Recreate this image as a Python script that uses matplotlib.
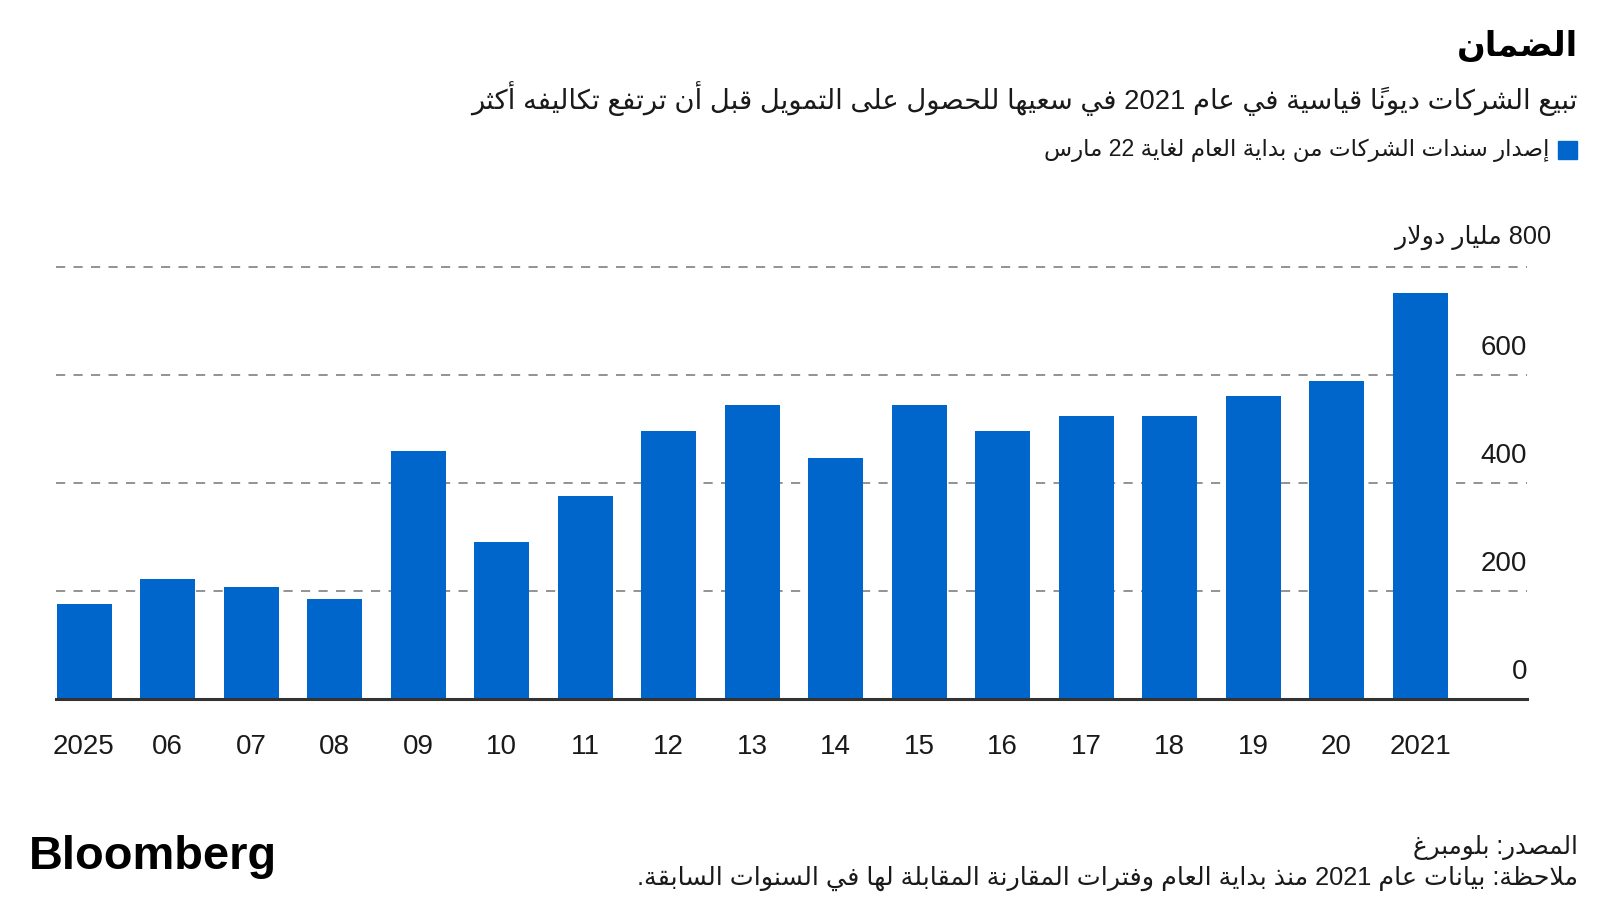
import matplotlib
matplotlib.use("Agg")
import matplotlib.pyplot as plt
import matplotlib.transforms as mtransforms

# ---------------- data ----------------
year_labels = ["2025", "06", "07", "08", "09", "10", "11", "12", "13", "14",
               "15", "16", "17", "18", "19", "20", "2021"]
issuance = [176, 222, 207, 186, 460, 291, 376, 497, 544, 447,
            544, 497, 525, 525, 562, 588, 752]
y_ticks = [0, 200, 400, 600]
y_top = 800

title_txt = "الضمان"
subtitle_txt = "تبيع الشركات ديوناً قياسية في عام 2021 في سعيها للحصول على التمويل قبل أن ترتفع تكاليفه أكثر"
legend_txt = "إصدار سندات الشركات من بداية العام لغاية 22 مارس"
unit_txt = "800 مليار دولار"
source_txt = "المصدر: بلومبرغ"
note_txt = "ملاحظة: بيانات عام 2021 منذ بداية العام وفترات المقارنة المقابلة لها في السنوات السابقة."

BLUE = "#0066CC"

# ---------------- minimal Arabic shaping + visual ordering ----------------
AR_FORMS = {
    '\u0621': (0xFE80, 1), '\u0622': (0xFE81, 2), '\u0623': (0xFE83, 2),
    '\u0624': (0xFE85, 2), '\u0625': (0xFE87, 2), '\u0626': (0xFE89, 4),
    '\u0627': (0xFE8D, 2), '\u0628': (0xFE8F, 4), '\u0629': (0xFE93, 2),
    '\u062A': (0xFE95, 4), '\u062B': (0xFE99, 4), '\u062C': (0xFE9D, 4),
    '\u062D': (0xFEA1, 4), '\u062E': (0xFEA5, 4), '\u062F': (0xFEA9, 2),
    '\u0630': (0xFEAB, 2), '\u0631': (0xFEAD, 2), '\u0632': (0xFEAF, 2),
    '\u0633': (0xFEB1, 4), '\u0634': (0xFEB5, 4), '\u0635': (0xFEB9, 4),
    '\u0636': (0xFEBD, 4), '\u0637': (0xFEC1, 4), '\u0638': (0xFEC5, 4),
    '\u0639': (0xFEC9, 4), '\u063A': (0xFECD, 4), '\u0641': (0xFED1, 4),
    '\u0642': (0xFED5, 4), '\u0643': (0xFED9, 4), '\u0644': (0xFEDD, 4),
    '\u0645': (0xFEE1, 4), '\u0646': (0xFEE5, 4), '\u0647': (0xFEE9, 4),
    '\u0648': (0xFEED, 2), '\u0649': (0xFEEF, 2), '\u064A': (0xFEF1, 4),
}
LAM_ALEF = {'\u0622': 0xFEF5, '\u0623': 0xFEF7, '\u0625': 0xFEF9, '\u0627': 0xFEFB}


def is_mark(c):
    return '\u064B' <= c <= '\u0652'


def ar(s):
    chars = list(s)
    n = len(chars)

    def prev_joins(idx):
        j = idx - 1
        while j >= 0 and is_mark(chars[j]):
            j -= 1
        return j >= 0 and chars[j] in AR_FORMS and AR_FORMS[chars[j]][1] == 4

    def next_letter(idx):
        j = idx + 1
        while j < n and is_mark(chars[j]):
            j += 1
        return j

    def collect_marks(k):
        m = ''
        while k < n and is_mark(chars[k]):
            m += chars[k]
            k += 1
        return m, k

    out = []
    i = 0
    while i < n:
        c = chars[i]
        if c in AR_FORMS:
            pj = prev_joins(i)
            j = next_letter(i)
            if c == '\u0644' and j < n and chars[j] in LAM_ALEF:
                g = chr(LAM_ALEF[chars[j]] + (1 if pj else 0))
                m1 = ''.join(chars[i + 1:j])
                m2, k = collect_marks(j + 1)
                out.append((g + m1 + m2, 'R'))
                i = k
                continue
            base, nf = AR_FORMS[c]
            nj = nf == 4 and j < n and chars[j] in AR_FORMS
            if nf == 1:
                form = 0
            elif nf == 2:
                form = 1 if pj else 0
            else:
                if pj and nj:
                    form = 3
                elif pj:
                    form = 1
                elif nj:
                    form = 2
                else:
                    form = 0
            m, k = collect_marks(i + 1)
            out.append((chr(base + form) + m, 'R'))
            i = k
        elif c.isdigit() or (c.isascii() and c.isalpha()):
            out.append((c, 'L'))
            i += 1
        else:
            out.append((c, 'R'))
            i += 1
    runs = []
    for txt, d in out:
        if runs and runs[-1][1] == d:
            runs[-1][0].append(txt)
        else:
            runs.append([[txt], d])
    vis = ''
    for clusters, d in reversed(runs):
        vis += ''.join(reversed(clusters)) if d == 'R' else ''.join(clusters)
    return vis


# ---------------- figure ----------------
W, H = 1600, 900
fig = plt.figure(figsize=(16, 9), dpi=100)
fig.patch.set_facecolor("white")
renderer = fig.canvas.get_renderer()

AR_FAM = ["Liberation Sans", "DejaVu Sans"]
NUM_FAM = ["Liberation Sans", "DejaVu Sans"]


def fx(px):
    return px / W


def fy(py):
    return 1 - py / H


def fit(t, target_w):
    bb = t.get_window_extent(renderer=renderer)
    t.set_fontsize(t.get_fontsize() * target_w / bb.width)


# axes
ax_left, ax_right, ax_bottom, ax_top = 56, 1527, 699, 267
ax = fig.add_axes([fx(ax_left), fy(ax_bottom), fx(ax_right - ax_left), (ax_bottom - ax_top) / H])
x = list(range(len(issuance)))
spacing = 83.5
bar_w = 55 / spacing
ax.set_xlim((ax_left - 84) / spacing, (ax_right - 84) / spacing)
ax.set_ylim(0, y_top)

for v in y_ticks[1:] + [y_top]:
    ax.axhline(v, color="#808080", lw=1.2, ls=(0, (5.5, 5)), zorder=1, clip_on=False)
ax.bar(x, issuance, width=bar_w, color=BLUE, zorder=2)
ax.axhline(0, color="#333333", lw=2.2, zorder=3, clip_on=False)

for s in ax.spines.values():
    s.set_visible(False)
ax.set_yticks([])
ax.set_xticks(x)
ax.set_xticklabels(year_labels, fontsize=20, family=NUM_FAM, color="#1a1a1a")
ax.tick_params(axis="x", length=0, pad=25)

off = mtransforms.offset_copy(ax.get_yaxis_transform(), fig=fig, x=0, y=27, units="dots")
for v in y_ticks:
    ax.text(1.0, v, f"{v}", transform=off, ha="right", va="center",
            fontsize=20, family=NUM_FAM, color="#1a1a1a")

# unit label
t = fig.text(fx(1551), fy(237), ar(unit_txt), ha="right", va="center",
             fontsize=19, family=AR_FAM, color="#1a1a1a")
fit(t, 156)

# title
t = fig.text(fx(1578), fy(47), ar(title_txt), ha="right", va="center",
             fontsize=26, family=AR_FAM, weight="bold", color="black")
fit(t, 121)

# subtitle
t = fig.text(fx(1578), fy(99), ar(subtitle_txt), ha="right", va="center",
             fontsize=18, family=AR_FAM, color="#1a1a1a")
fit(t, 1106)

# legend
fig.patches.append(plt.Rectangle((fx(1558), fy(159)), fx(19), 18 / H,
                                 transform=fig.transFigure, color=BLUE, figure=fig))
t = fig.text(fx(1549), fy(150), ar(legend_txt), ha="right", va="center",
             fontsize=15, family=AR_FAM, color="#1a1a1a")
fit(t, 508)

# footer
t = fig.text(fx(1578), fy(847), ar(source_txt), ha="right", va="center",
             fontsize=15, family=AR_FAM, color="#1a1a1a")
fit(t, 165)
t = fig.text(fx(1578), fy(878), ar(note_txt), ha="right", va="center",
             fontsize=15, family=AR_FAM, color="#1a1a1a")
fit(t, 945)

t = fig.text(fx(29), fy(857), "Bloomberg", ha="left", va="center",
             fontsize=32, family=["Liberation Sans"], weight="bold", color="black")
fit(t, 249)

fig.savefig("out.png", dpi=100, facecolor="white")
